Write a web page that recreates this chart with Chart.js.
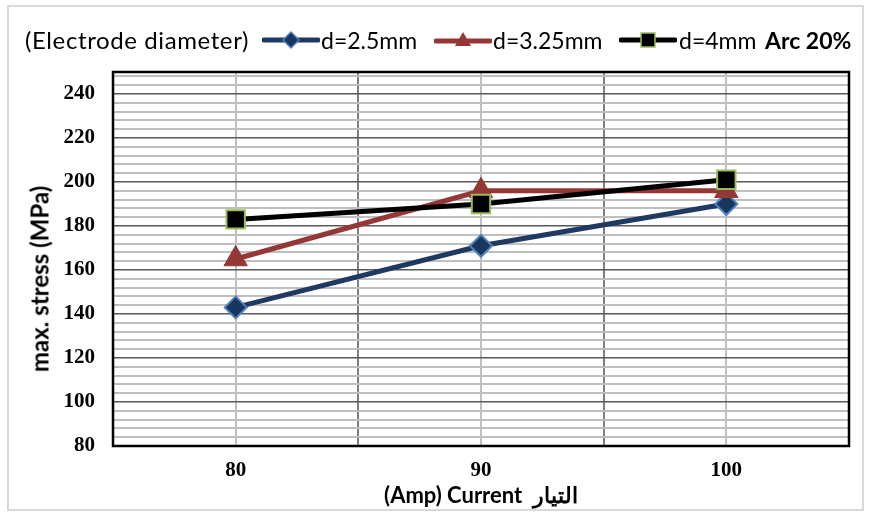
<!DOCTYPE html>
<html>
<head>
<meta charset="utf-8">
<script src="https://cdn.jsdelivr.net/npm/chart.js@4.4.0/dist/chart.umd.min.js"></script>
<style>
  html, body { margin: 0; padding: 0; background: #fff; }
  #wrap { position: relative; width: 869px; height: 515px; }
  #frame { position: absolute; left: 7px; top: 5px; width: 857px; height: 506px; border: 2px solid #d9d9d9; box-sizing: border-box; }
  #chart { position: absolute; left: 0; top: 0; }
  .lg { position: absolute; top: 25px; font-family: Lato, "Open Sans", sans-serif; font-size: 23px; color: #000; white-space: nowrap; line-height: 30px; }
  .sw { position: absolute; top: 28px; }
  #ytitle { position: absolute; left: 39px; top: 279px; transform: translate(-50%, -50%) rotate(-90deg);
            font-family: Lato, "Open Sans", sans-serif; font-weight: bold; font-size: 24px; white-space: nowrap; color: #000; }
</style>
</head>
<body>
<div id="wrap">
  <div id="frame"></div>
  <canvas id="chart" width="869" height="515"></canvas>
  <div class="lg" style="left:25px;font-size:24px;letter-spacing:0.6px">(Electrode diameter)</div>
  <svg class="sw" style="left:262px" width="58" height="24"><line x1="2" y1="12" x2="56" y2="12" stroke="#1f3864" stroke-width="5" stroke-linecap="round"/><polygon points="29,4 37,12 29,20 21,12" fill="#17375e" stroke="#4f81bd" stroke-width="1.5"/></svg>
  <div class="lg" style="left:321px">d=2.5mm</div>
  <svg class="sw" style="left:434px" width="58" height="24"><line x1="2" y1="13" x2="56" y2="13" stroke="#953735" stroke-width="5" stroke-linecap="round"/><polygon points="29,4 37,18 21,18" fill="#953735"/></svg>
  <div class="lg" style="left:493px">d=3.25mm</div>
  <svg class="sw" style="left:619px" width="58" height="24"><line x1="2" y1="12" x2="56" y2="12" stroke="#000" stroke-width="5" stroke-linecap="round"/><rect x="22" y="5" width="14" height="14" fill="#000" stroke="#9bbb59" stroke-width="1.5"/></svg>
  <div class="lg" style="left:679px">d=4mm</div>
  <div class="lg" style="left:765px;font-weight:bold">Arc 20%</div>
  <div id="ytitle">max. stress (MPa)</div>
</div>
<script>
// data
const currents = [80, 90, 100];
const d25 = [143, 171, 190];
const d325 = [165, 196, 196];
const d4 = [183, 190, 201];
const yLabels = [80, 100, 120, 140, 160, 180, 200, 220, 240];

const xMin = 75, xMax = 105;
const yMin = 80, yMax = 250;

function pts(vals) {
    return currents.map((c, i) => ({ x: c, y: vals[i] }));
}

// minor horizontal grid every 4, vertical every 5
const yGrid = [];
for (let v = yMin; v <= yMax; v += 4) yGrid.push(v);
yGrid.push(yMax);
const xGrid = [];
for (let v = xMin; v <= xMax; v += 5) xGrid.push(v);

const framePlugin = {
    id: 'frame',
    beforeDatasetsDraw(chart) {
        const a = chart.chartArea;
        const ctx = chart.ctx;
        ctx.save();
        ctx.strokeStyle = '#000';
        ctx.lineWidth = 2.5;
        ctx.strokeRect(a.left, a.top, a.right - a.left, a.bottom - a.top);
        ctx.restore();
    }
};

const tickFont = { family: '"Liberation Serif", serif', size: 21, weight: 'bold' };
const titleFont = { family: 'Lato, "Open Sans", sans-serif', size: 22, weight: 'bold' };

new Chart(document.getElementById('chart'), {
    type: 'line',
    data: {
        datasets: [
            {
                label: 'd=2.5mm',
                data: pts(d25),
                borderColor: '#1f3864',
                backgroundColor: '#17375e',
                pointBorderColor: '#4f81bd',
                pointBorderWidth: 2,
                borderWidth: 5,
                pointStyle: 'rectRot',
                pointRadius: 11,
                order: 3
            },
            {
                label: 'd=3.25mm',
                data: pts(d325),
                borderColor: '#953735',
                backgroundColor: '#953735',
                pointBorderColor: '#953735',
                pointBorderWidth: 1,
                borderWidth: 5,
                pointStyle: 'triangle',
                pointRadius: 13.5,
                order: 2
            },
            {
                label: 'd=4mm',
                data: pts(d4),
                borderColor: '#000',
                backgroundColor: '#000',
                pointBorderColor: '#9bbb59',
                pointBorderWidth: 2,
                borderWidth: 5,
                pointStyle: 'rect',
                pointRadius: 13,
                order: 1
            }
        ]
    },
    options: {
        responsive: false,
        animation: false,
        layout: { padding: { top: 72, right: 20, left: 0, bottom: 0 } },
        plugins: {
            legend: { display: false },
            tooltip: { enabled: false }
        },
        scales: {
            x: {
                type: 'linear',
                min: xMin,
                max: xMax,
                afterBuildTicks: s => { s.ticks = xGrid.map(v => ({ value: v })); },
                afterFit: s => { s.height = 69; },
                border: { display: false },
                grid: {
                    drawTicks: false,
                    color: c => (c.tick && (c.tick.value === 85 || c.tick.value === 95)) ? '#7f7f7f' : '#bfbfbf',
                    lineWidth: 2
                },
                ticks: {
                    autoSkip: false,
                    maxRotation: 0,
                    padding: 12,
                    color: '#000',
                    font: tickFont,
                    callback: v => currents.includes(v) ? String(v) : ''
                },
                title: {
                    display: true,
                    text: '(Amp) Current  التيار',
                    color: '#000',
                    font: titleFont,
                    padding: { top: 0, bottom: 6 }
                }
            },
            y: {
                min: yMin,
                max: yMax,
                afterBuildTicks: s => { s.ticks = yGrid.map(v => ({ value: v })); },
                afterFit: s => { s.width = 113; },
                border: { display: false },
                grid: {
                    drawTicks: false,
                    color: c => (c.tick && yLabels.includes(c.tick.value)) ? '#595959' : '#bfbfbf',
                    lineWidth: c => (c.tick && yLabels.includes(c.tick.value)) ? 1.5 : 2
                },
                ticks: {
                    autoSkip: false,
                    padding: 18,
                    color: '#000',
                    font: tickFont,
                    callback: v => yLabels.includes(v) ? String(v) : ''
                },
                title: { display: false }
            }
        }
    },
    plugins: [framePlugin]
});
</script>
</body>
</html>
